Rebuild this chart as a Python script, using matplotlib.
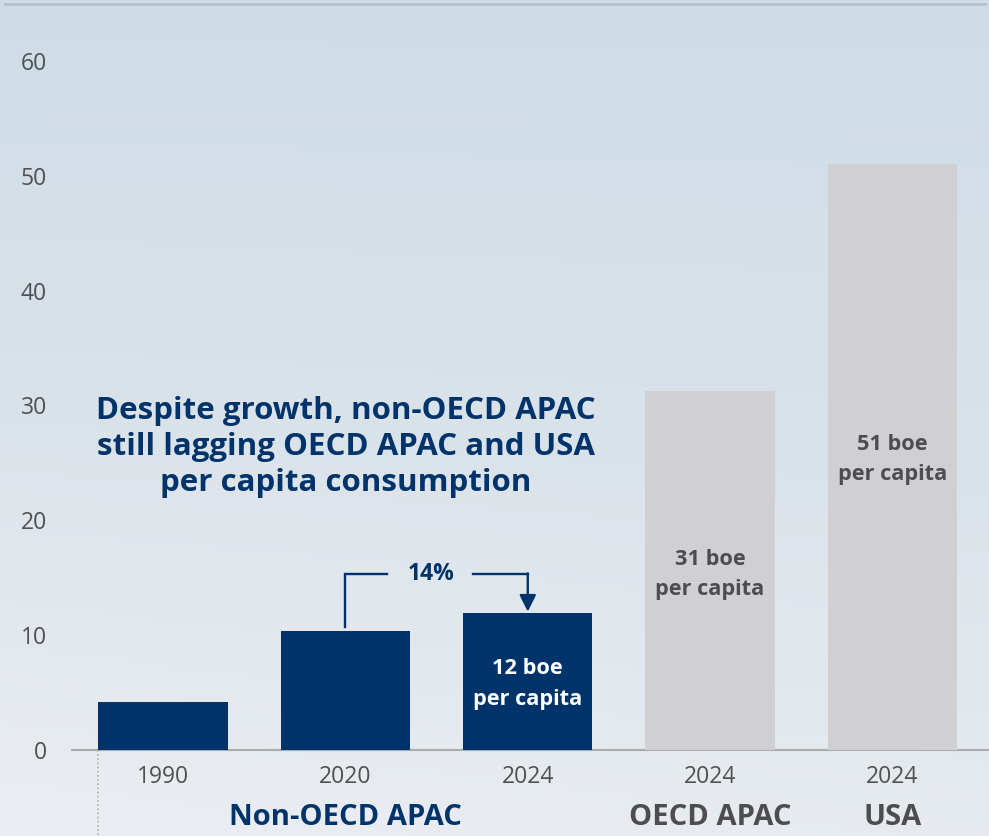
"""Per capita energy consumption: non-OECD APAC vs OECD APAC and USA (boe per capita)."""
import numpy as np
import matplotlib
matplotlib.use("Agg")
import matplotlib.pyplot as plt
from matplotlib.colors import LinearSegmentedColormap
import matplotlib.transforms as mtrans

plt.rcParams["font.family"] = ["Open Sans", "DejaVu Sans"]

YEARS = ["1990", "2020", "2024", "2024", "2024"]
VALUES = [4.2, 10.4, 11.9, 31.3, 51.0]
BAR_LABELS = ["", "", "12 boe\nper capita", "31 boe\nper capita", "51 boe\nper capita"]
GROUPS = ["Non-OECD APAC", "OECD APAC", "USA"]
GROUP_POS = [1, 3, 4]
GROWTH = "14%"
CALLOUT = "Despite growth, non-OECD APAC\nstill lagging OECD APAC and USA\nper capita consumption"

NAVY = "#00336a"
GREY_BAR = "#d0d0d2"
GREY_TXT = "#4d4d4f"
colors = [NAVY, NAVY, NAVY, GREY_BAR, GREY_BAR]
label_colors = ["white", "white", "white", GREY_TXT, GREY_TXT]
group_colors = [NAVY, GREY_TXT, GREY_TXT]

W, H = 989, 836
fig = plt.figure(figsize=(W / 100, H / 100), dpi=100)

# soft blue-grey background gradient
bg = fig.add_axes([0, 0, 1, 1], zorder=-10)
yy, xx = np.mgrid[0:1:200j, 0:1:200j]
grad = np.clip(0.85 * yy + 0.15 * (1 - xx) * yy, 0, 1)
cmap = LinearSegmentedColormap.from_list("bg", ["#cfdce7", "#dbe3ea", "#ebeef2"])
bg.imshow(grad, cmap=cmap, aspect="auto", extent=[0, 1, 0, 1], origin="upper")
bg.axis("off")
fig.add_artist(plt.Line2D([5 / W, 985 / W], [1 - 4 / H, 1 - 4 / H], color="#b5c2cb", lw=2))

ax = fig.add_axes([72 / W, 1 - 750 / H, (989 - 72) / W, (750 - 61) / H])
ax.patch.set_alpha(0)
x = np.arange(len(VALUES))
bw = 0.71
ax.bar(x, VALUES, width=bw, color=colors, zorder=3)
ax.set_xlim(-0.5, 4.53)
ax.set_ylim(0, 60)
ax.set_yticks(range(0, 61, 10))
ax.tick_params(axis="y", length=0, pad=18, labelsize=16.5, labelcolor="#505050")
ax.set_xticks(x)
ax.set_xticklabels(YEARS)
ax.tick_params(axis="x", length=0, pad=11, labelsize=16.5, labelcolor="#505050")
for s in ["top", "right", "left"]:
    ax.spines[s].set_visible(False)
ax.spines["bottom"].set_color("#ababab")
ax.spines["bottom"].set_linewidth(1.5)

# value labels in bars
label_y = [0, 0, 5.75, 15.3, 25.3]
for xi, lab, ly, c in zip(x, BAR_LABELS, label_y, label_colors):
    if lab:
        ax.text(xi, ly, lab, ha="center", va="center", color=c, fontsize=15.7,
                fontweight="bold", linespacing=1.6, zorder=4)

# group names under years
tr = mtrans.blended_transform_factory(ax.transData, ax.transAxes)
for g, gp, gc in zip(GROUPS, GROUP_POS, group_colors):
    ax.text(gp, -0.098, g, transform=tr, ha="center", va="center", fontsize=21,
            fontweight="bold", color=gc)

# dotted separator below axis
ax.plot([-bw / 2, -bw / 2], [0, -0.13], transform=tr, color="#b0b0b0", lw=1.2,
        ls=(0, (1, 1.5)), clip_on=False)

# callout text
ax.text(1.0, 26.4, CALLOUT, ha="center", va="center", color=NAVY, fontsize=22.5,
        fontweight="bold", linespacing=1.27)

# growth bracket 2020 -> 2024
yb = 15.3
ax.plot([1, 1, 1.23], [VALUES[1] + 0.35, yb, yb], color=NAVY, lw=1.7, zorder=4,
        solid_joinstyle="miter")
ax.plot([1.70, 2.0], [yb, yb], color=NAVY, lw=1.7, zorder=4)
ax.annotate("", xy=(2.0, VALUES[2] + 0.15), xytext=(2.0, yb + 0.08),
            arrowprops=dict(arrowstyle="-|>,head_length=1.0,head_width=0.5",
                            color=NAVY, lw=1.7, shrinkA=0, shrinkB=0))
ax.text(1.47, yb, GROWTH, ha="center", va="center", color=NAVY, fontsize=16.5,
        fontweight="bold")

fig.savefig("out.png", dpi=100)
